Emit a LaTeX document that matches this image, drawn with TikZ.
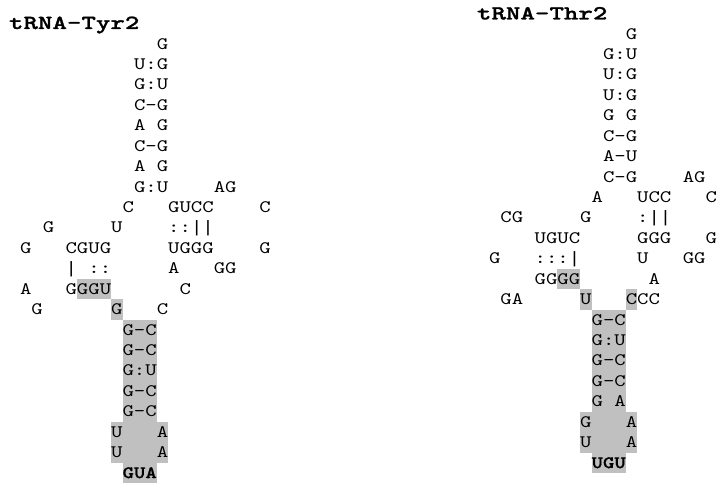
\documentclass[tikz,border=0pt]{standalone}
\usepackage{fontspec}
\newfontfamily\monof{lmmono10-regular.otf}[FakeStretch=1.24, BoldFont=lmmonolt10-bold.otf, BoldFeatures={FakeBold=0.8}]
\newfontfamily\monot{lmmonolt10-bold.otf}[FakeStretch=1.38, FakeBold=1.2]
\newfontfamily\barf{Liberation Mono}[FakeStretch=1.15]
\newcommand\vb{{\fontsize{16.5}{20}\barf|}}
\definecolor{shade}{RGB}{192,192,192}
\tikzset{
  txt/.style={anchor=base west, inner sep=0pt, outer sep=0pt, yshift=-5.35pt,
    font=\fontsize{17.5}{20}\monof},
  boldtxt/.style={txt, font=\fontsize{17.5}{20}\monof\bfseries},
  title/.style={anchor=base west, inner sep=0pt, outer sep=0pt,
    font=\fontsize{20}{24}\monot},
  shadebox/.style={fill=shade, draw=none}
}
\newcommand\nt[4]{\node[txt] (#1) at (#2,#3) {#4};}
\newcommand\sh[3]{\fill[shadebox] (#1,#2-0.5) rectangle (#1+#3,#2+0.5);}
\begin{document}
\begin{tikzpicture}
\useasboundingbox (0,0) rectangle (717pt,-487pt);
\fill[white] (0,0) rectangle (717pt,-487pt);
\node[title] (tyr) at (9pt,-29pt) {tRNA-Tyr2};
\node[title] (thr) at (477pt,-19.5pt) {tRNA-Thr2};
% ---------------- left: tRNA-Tyr2
\begin{scope}[shift={(134pt,-43.7pt)}, x=11.4pt, y=-20.43pt]
\sh{-5}{12}{3}
\sh{-2}{13}{1}
\sh{-1}{14}{3}\sh{-1}{15}{3}\sh{-1}{16}{3}\sh{-1}{17}{3}\sh{-1}{18}{3}
\sh{-2}{19}{5}\sh{-2}{20}{5}
\sh{-1}{21}{3}
\nt{La0}{2}{0}{G}
\nt{La1}{0}{1}{U:G}
\nt{La2}{0}{2}{G:U}
\nt{La3}{0}{3}{C-G}
\nt{La4}{0}{4}{A}\nt{Lb4}{2}{4}{G}
\nt{La5}{0}{5}{C-G}
\nt{La6}{0}{6}{A}\nt{Lb6}{2}{6}{G}
\nt{La7}{0}{7}{G:U}\nt{Lb7}{7}{7}{AG}
\nt{La8}{-1}{8}{C}\nt{Lb8}{3}{8}{GUCC}\nt{Lc8}{11}{8}{C}
\nt{La9}{-8}{9}{G}\nt{Lb9}{-2}{9}{U}\nt{Lc9}{3}{9}{::}\nt{Ld9}{5}{9}{\vb\vb}
\nt{La10}{-10}{10}{G}\nt{Lb10}{-6}{10}{CGUG}\nt{Lc10}{3}{10}{UGGG}\nt{Ld10}{11}{10}{G}
\nt{La11}{-6}{11}{\vb}\nt{Lb11}{-4}{11}{::}\nt{Lc11}{3}{11}{A}\nt{Ld11}{7}{11}{GG}
\nt{La12}{-10}{12}{A}\nt{Lb12}{-6}{12}{GGGU}\nt{Lc12}{4}{12}{C}
\nt{La13}{-9}{13}{G}\nt{Lb13}{-2}{13}{G}\nt{Lc13}{2}{13}{C}
\nt{La14}{-1}{14}{G-C}
\nt{La15}{-1}{15}{G-C}
\nt{La16}{-1}{16}{G:U}
\nt{La17}{-1}{17}{G-C}
\nt{La18}{-1}{18}{G-C}
\nt{La19}{-2}{19}{U}\nt{Lb19}{2}{19}{A}
\nt{La20}{-2}{20}{U}\nt{Lb20}{2}{20}{A}
\node[boldtxt] (La21) at (-1,21) {GUA};
\end{scope}
% ---------------- right: tRNA-Thr2
\begin{scope}[shift={(603pt,-33.7pt)}, x=11.4pt, y=-20.43pt]
\sh{-4}{12}{2}
\sh{-2}{13}{1}\sh{2}{13}{1}
\sh{-1}{14}{3}\sh{-1}{15}{3}\sh{-1}{16}{3}\sh{-1}{17}{3}\sh{-1}{18}{3}
\sh{-2}{19}{5}\sh{-2}{20}{5}
\sh{-1}{21}{3}
\nt{Ra0}{2}{0}{G}
\nt{Ra1}{0}{1}{G:U}
\nt{Ra2}{0}{2}{U:G}
\nt{Ra3}{0}{3}{U:G}
\nt{Ra4}{0}{4}{G}\nt{Rb4}{2}{4}{G}
\nt{Ra5}{0}{5}{C-G}
\nt{Ra6}{0}{6}{A-U}
\nt{Ra7}{0}{7}{C-G}\nt{Rb7}{7}{7}{AG}
\nt{Ra8}{-1}{8}{A}\nt{Rb8}{3}{8}{UCC}\nt{Rc8}{9}{8}{C}
\nt{Ra9}{-9}{9}{CG}\nt{Rb9}{-2}{9}{G}\nt{Rc9}{3}{9}{:}\nt{Rd9}{4}{9}{\vb\vb}
\nt{Ra10}{-6}{10}{UGUC}\nt{Rb10}{3}{10}{GGG}\nt{Rc10}{9}{10}{G}
\nt{Ra11}{-10}{11}{G}\nt{Rb11}{-6}{11}{:::}\nt{Re11}{-3}{11}{\vb}\nt{Rc11}{3}{11}{U}\nt{Rd11}{7}{11}{GG}
\nt{Ra12}{-6}{12}{GGGG}\nt{Rb12}{4}{12}{A}
\nt{Ra13}{-9}{13}{GA}\nt{Rb13}{-2}{13}{U}\nt{Rc13}{2}{13}{CCC}
\nt{Ra14}{-1}{14}{G-C}
\nt{Ra15}{-1}{15}{G:U}
\nt{Ra16}{-1}{16}{G-C}
\nt{Ra17}{-1}{17}{G-C}
\nt{Ra18}{-1}{18}{G}\nt{Rb18}{1}{18}{A}
\nt{Ra19}{-2}{19}{G}\nt{Rb19}{2}{19}{A}
\nt{Ra20}{-2}{20}{U}\nt{Rb20}{2}{20}{A}
\node[boldtxt] (Ra21) at (-1,21) {UGU};
\end{scope}
\end{tikzpicture}
\end{document}
